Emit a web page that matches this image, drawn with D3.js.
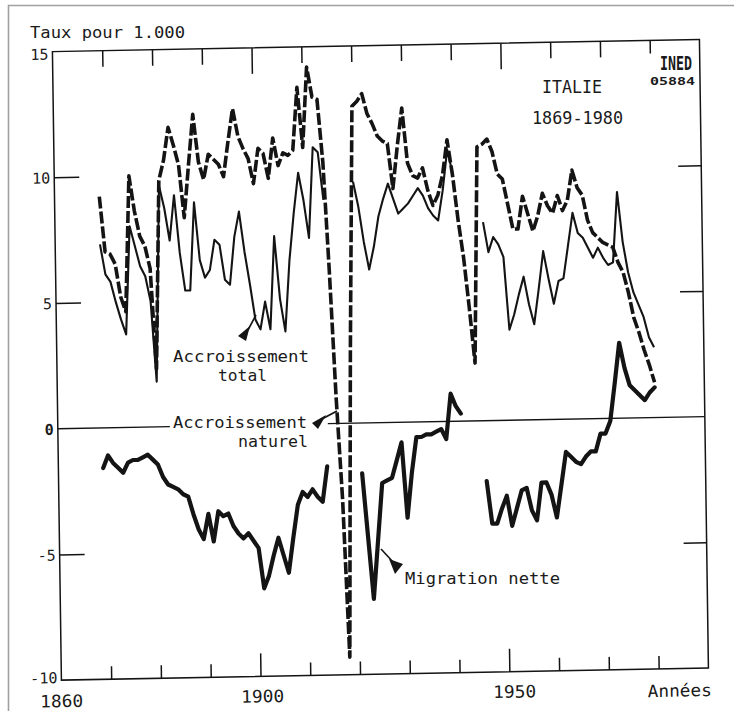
<!DOCTYPE html>
<html lang="fr">
<head>
<meta charset="utf-8">
<title>Italie 1869-1980</title>
<script src="https://cdn.jsdelivr.net/npm/d3@7/dist/d3.min.js"></script>
<style>
html,body{margin:0;padding:0;background:#fff;}
svg{display:block;}
text{font-family:"DejaVu Sans Mono","Liberation Mono",monospace;fill:#1a1a1a;}
</style>
</head>
<body>
<svg id="chart" width="734" height="711"></svg>
<script>
// ---------------- DATA (taux pour 1.000) ----------------
const firstYear = 1869;
// Accroissement naturel, 1869-1980
const naturel = [
  9.2,
  7.0, 6.9, 6.5, 5.2, 4.6, 10.0, 8.6, 7.6, 7.2, 6.3,
  2.3, 9.8, 10.6, 11.9, 11.2, 10.4, 8.3, 10.4, 12.4, 10.5,
  9.8, 10.8, 10.6, 10.4, 9.9, 11.3, 12.6, 11.5, 11.0, 10.6,
  9.6, 11.0, 10.8, 9.8, 11.4, 10.3, 10.8, 10.7, 10.9, 13.4,
  11.0, 14.2, 13.0, 12.9, 10.4, 6.0, 1.0, -3.0, -9.3, 3.0,
  12.6, 12.8, 13.1, 12.3, 11.9, 11.4, 11.2, 11.1, 9.3, 11.0,
  12.5, 10.3, 9.8, 9.7, 10.1, 9.2, 8.6, 9.0, 9.8, 11.2,
  9.8, 8.0, 6.5, 4.5, 2.3, 10.9, 11.0, 11.2, 10.7, 9.8,
  9.6, 8.6, 7.6, 7.6, 8.9, 8.2, 7.5, 8.1, 9.0, 8.5,
  8.2, 8.9, 8.3, 8.7, 9.9, 9.2, 8.9, 7.9, 7.4, 7.2,
  7.0, 6.9, 6.8, 6.2, 5.8, 5.0, 4.0, 3.4, 2.7, 2.1,
  1.4
];
// Accroissement total, 1869-1980 (null = non tracé)
const total = [
  7.3,
  6.1, 5.8, 5.0, 4.3, 3.7, 8.0, 7.2, 6.4, 6.0, 5.0,
  1.8, 9.6, 8.7, 7.4, 9.2, 6.9, 5.4, 5.4, 8.9, 6.6,
  5.9, 6.2, 7.4, 7.2, 5.8, 5.6, 7.5, 8.5, 6.9, 5.6,
  4.2, 3.8, 4.9, 3.8, 7.5, 5.0, 3.7, 6.5, 8.4, 10.0,
  8.9, 7.4, 11.0, 10.8, 8.9, null, null, null, null, null,
  9.6, 8.6, 7.2, 6.1, 7.0, 8.2, 8.9, 9.5, 8.9, 8.3,
  8.5, 8.7, 9.0, 9.3, 9.0, 8.5, 8.2, 8.0, 9.2, 10.8,
  9.9, null, null, null, null, null, 7.9, 6.7, 7.3, 7.0,
  6.5, 3.6, 4.2, 5.0, 5.7, 4.6, 3.8, 5.2, 6.7, 5.6,
  4.6, 5.5, 5.6, 6.9, 8.2, 7.4, 7.2, 6.8, 6.4, 6.8,
  6.4, 6.1, 6.2, 9.0, 7.0, 5.8, 5.0, 4.5, 4.0, 3.2,
  2.8
];
// Migration nette, 1869-1980 (null = non tracé)
const migration = [
  -1.6,
  -1.1, -1.4, -1.6, -1.8, -1.4, -1.3, -1.3, -1.2, -1.1, -1.3,
  -1.5, -2.0, -2.3, -2.4, -2.5, -2.7, -2.8, -3.5, -4.1, -4.5,
  -3.5, -4.6, -3.4, -3.6, -3.5, -4.0, -4.3, -4.5, -4.3, -4.6,
  -4.9, -6.5, -6.0, -5.2, -4.5, -5.2, -5.9, -4.5, -3.2, -2.7,
  -2.9, -2.6, -2.9, -3.1, -1.7, null, null, null, null, null,
  null, -2.0, -4.5, -7.0, -4.7, -2.4, -2.3, -2.2, -1.5, -0.8,
  -3.8, -2.0, -0.6, -0.6, -0.5, -0.5, -0.4, -0.3, -0.7, 1.1,
  0.6, 0.3, null, null, null, null, -2.4, -4.1, -4.1, -3.5,
  -3.0, -4.2, -3.5, -2.8, -2.7, -3.6, -4.0, -2.5, -2.5, -3.0,
  -3.9, -2.6, -1.3, -1.5, -1.7, -1.8, -1.5, -1.3, -1.3, -0.6,
  -0.6, -0.1, 1.4, 3.0, 2.0, 1.3, 1.1, 0.9, 0.7, 1.0,
  1.2
];
const yTickValues = [15, 10, 5, 0, -5, -10];
const yTickLabels = ["15", "10", "5", "0", "-5", "-10"];
const xTickValues = [1870, 1880, 1890, 1900, 1910, 1920, 1930, 1940, 1950, 1960, 1970, 1980];
const xLongTicks = [1900, 1950];
const xLabelValues = [1860, 1900, 1950];

// ---------------- CHART ----------------
const svg = d3.select("#chart");
svg.append("rect").attr("width", 734).attr("height", 711).attr("fill", "#fff");
// scanned page frame
svg.append("path").attr("d", "M8.5,720 V5.5 H740")
  .attr("fill", "none").attr("stroke", "#a0a0a0").attr("stroke-width", 1.6);

const x = d3.scaleLinear().domain([1860, 1990]).range([57, 704]);
const y = d3.scaleLinear().domain([-10, 15]).range([674, 45.5]);

// the scanned figure is slightly skewed
const g = svg.append("g").attr("transform", "matrix(1,-0.0187,0.0143,1,-5.22,7.18)");

const ink = "#141414";
g.append("rect")
  .attr("x", x(1860)).attr("y", y(15))
  .attr("width", x(1990) - x(1860)).attr("height", y(-10) - y(15))
  .attr("fill", "none").attr("stroke", ink).attr("stroke-width", 1.5);

function styleAxis(sel) {
  sel.select(".domain").remove();
  sel.selectAll(".tick line").attr("stroke", ink).attr("stroke-width", 1.5);
  sel.selectAll(".tick text").remove();
}
// bottom ticks (inward)
const bAx = g.append("g").attr("transform", `translate(0,${y(-10)})`)
  .call(d3.axisBottom(x).tickValues(xTickValues).tickSize(13)).call(styleAxis);
bAx.selectAll(".tick line").attr("y2", d => xLongTicks.includes(d) ? -23 : -13);
// top ticks (inward)
const tAx = g.append("g").attr("transform", `translate(0,${y(15)})`)
  .call(d3.axisTop(x).tickValues(xTickValues).tickSize(16)).call(styleAxis);
tAx.selectAll(".tick line").attr("y2", d => xLongTicks.includes(d) ? 26 : (d === 1980 ? 13 : 16));
// left / right ticks
g.append("g").attr("transform", `translate(${x(1860)},0)`)
  .call(d3.axisLeft(y).tickValues([10, 5, -5]).tickSize(-25)).call(styleAxis);
g.append("g").attr("transform", `translate(${x(1990)},0)`)
  .call(d3.axisRight(y).tickValues([10, 5, -5]).tickSize(-23)).call(styleAxis);

// zero line, interrupted by the label "Accroissement naturel"
g.append("line").attr("x1", x(1860)).attr("x2", 169).attr("y1", y(0)).attr("y2", y(0))
  .attr("stroke", ink).attr("stroke-width", 1.4);
g.append("line").attr("x1", 327).attr("x2", x(1990)).attr("y1", y(0)).attr("y2", y(0))
  .attr("stroke", ink).attr("stroke-width", 1.4);

// y tick labels
g.selectAll("text.ylab").data(yTickValues).join("text").attr("class", "ylab")
  .attr("x", x(1860) - 4)
  .attr("y", d => y(d) + (d === 15 ? 8 : d === -10 ? 3 : 6))
  .attr("text-anchor", "end")
  .attr("font-size", 15)
  .attr("font-weight", d => d === 0 ? "bold" : "normal")
  .text((d, i) => yTickLabels[i]);

// x tick labels
g.selectAll("text.xlab").data(xLabelValues).join("text").attr("class", "xlab")
  .attr("x", d => x(d) + (d === 1860 ? 0 : d === 1900 ? 2 : 5))
  .attr("y", d => y(-10) + (d === 1860 ? 27 : 26))
  .attr("text-anchor", "middle")
  .attr("font-size", 17)
  .attr("textLength", 43).attr("lengthAdjust", "spacingAndGlyphs")
  .text(d => String(d));
g.append("text").attr("x", x(1990) + 3).attr("y", y(-10) + 28)
  .attr("text-anchor", "end").attr("font-size", 17)
  .attr("textLength", 64).attr("lengthAdjust", "spacingAndGlyphs").text("Années");

// data lines
const rows = arr => arr.map((v, i) => ({ year: firstYear + i, v }));
const line = d3.line().defined(d => d.v !== null).x(d => x(d.year)).y(d => y(d.v));

g.append("path").datum(rows(total)).attr("d", line)
  .attr("fill", "none").attr("stroke", ink).attr("stroke-width", 2.1)
  .attr("stroke-linejoin", "round");
g.append("path").datum(rows(naturel)).attr("d", line)
  .attr("fill", "none").attr("stroke", ink).attr("stroke-width", 3.6)
  .attr("stroke-dasharray", "12,3").attr("stroke-linejoin", "round");
g.append("path").datum(rows(migration)).attr("d", line)
  .attr("fill", "none").attr("stroke", ink).attr("stroke-width", 4.2)
  .attr("stroke-linejoin", "round").attr("stroke-linecap", "round");

// ---------------- TEXTS & ANNOTATIONS (page coordinates) ----------------
function txt(s, xx, yy, size, len, extra) {
  const t = svg.append("text").attr("x", xx).attr("y", yy).attr("font-size", size).text(s);
  if (len) t.attr("textLength", len).attr("lengthAdjust", "spacingAndGlyphs");
  if (extra) extra(t);
  return t;
}
txt("Taux pour 1.000", 30, 38, 16.5, 155);
txt("ITALIE", 542, 93, 17, 60);
txt("1869-1980", 532, 124, 17, 91);
txt("Accroissement", 173, 362, 16, 136);
txt("total", 218, 381, 16, 49);
txt("Accroissement", 173, 428, 16, 134);
txt("naturel", 238, 447, 16, 70);
txt("Migration nette", 405, 584, 16, 155);

// logo
txt("INED", 660, 70, 20, 32, t => t.attr("font-weight", "bold"));
txt("05884", 650, 85, 11, 45, t => t.attr("font-weight", "bold"));

// leader arrows
function wedge(pts, from, to) {
  svg.append("line").attr("x1", from[0]).attr("y1", from[1]).attr("x2", to[0]).attr("y2", to[1])
    .attr("stroke", ink).attr("stroke-width", 1.6);
  svg.append("polygon").attr("points", pts.map(p => p.join(",")).join(" ")).attr("fill", ink);
}
wedge([[238, 336], [250, 326], [246, 341]], [248, 330], [256, 315]);
wedge([[312, 423], [326, 415], [318, 429]], [322, 419], [337, 411]);
wedge([[389, 559], [403, 564], [395, 574]], [381, 549], [394, 563]);
</script>
</body>
</html>
